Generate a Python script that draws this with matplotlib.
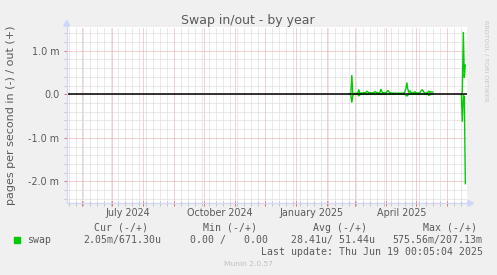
import numpy as np
import pandas as pd
import matplotlib
matplotlib.use("Agg")
import matplotlib.pyplot as plt
import matplotlib.dates as mdates
from matplotlib.ticker import MultipleLocator, FixedLocator, NullFormatter
from matplotlib.patches import Polygon, Rectangle
from matplotlib.lines import Line2D
from matplotlib.transforms import blended_transform_factory

# ---------------- data ----------------
title = "Swap in/out - by year"
ylabel = "pages per second in (-) / out (+)"
x_start = "2024-05-16 09:00"
x_end = "2025-06-20 09:00"
y_limits = (-2.5, 1.55)              # milli-pages per second
ytick_values = [-2.0, -1.0, 0.0, 1.0]
ytick_labels = ["-2.0 m", "-1.0 m", "0.0", "1.0 m"]
month_labels = ["July 2024", "October 2024", "January 2025", "April 2025"]
month_label_dates = ["2024-07-16", "2024-10-16", "2025-01-16", "2025-04-16"]

# daily values (milli-pages/s), first segment
seg1_start = "2025-02-22 12:00"
swap_out_seg1 = [
    0.00, 0.00, 0.02, 0.44, 0.00, 0.01, 0.02, 0.02, 0.02, 0.03,
    0.11, 0.02, 0.03, 0.03, 0.03, 0.04, 0.03, 0.04, 0.075, 0.05,
    0.04, 0.035, 0.035, 0.03, 0.035, 0.04, 0.06, 0.05, 0.04, 0.03,
    0.03, 0.04, 0.12, 0.06, 0.03, 0.035, 0.03, 0.04, 0.05, 0.09,
    0.06, 0.04, 0.03, 0.03, 0.025, 0.025, 0.025, 0.025, 0.025, 0.025,
    0.025, 0.025, 0.025, 0.025, 0.025, 0.03, 0.05, 0.12, 0.27, 0.12,
    0.04, 0.08, 0.04, 0.03, 0.03, 0.04, 0.06, 0.04, 0.03, 0.03,
    0.03, 0.04, 0.07, 0.10, 0.09, 0.05, 0.03, 0.03, 0.03, 0.05,
    0.075, 0.04, 0.06, 0.05, 0.05,
]
swap_in_seg1 = [
    0.00, 0.00, 0.02, 0.19, 0.02, 0.00, 0.00, 0.00, 0.00, 0.00,
    0.04, 0.01, 0.00, 0.00, 0.00, 0.00, 0.00, 0.00, 0.00, 0.00,
    0.00, 0.00, 0.00, 0.00, 0.00, 0.00, 0.00, 0.00, 0.00, 0.00,
    0.00, 0.00, 0.00, 0.00, 0.00, 0.00, 0.00, 0.00, 0.00, 0.00,
    0.00, 0.00, 0.00, 0.00, 0.00, 0.00, 0.00, 0.00, 0.00, 0.00,
    0.00, 0.00, 0.00, 0.00, 0.00, 0.00, 0.00, 0.02, 0.04, 0.02,
    0.00, 0.00, 0.00, 0.00, 0.00, 0.00, 0.00, 0.00, 0.00, 0.00,
    0.00, 0.00, 0.00, 0.00, 0.00, 0.00, 0.00, 0.00, 0.00, 0.00,
    0.03, 0.01, 0.00, 0.00, 0.00,
]
# second segment (last days)
seg2_start = "2025-06-15 00:00"
swap_out_seg2 = [0.00, 0.05, 1.43, 0.38, 0.67]
swap_in_seg2 = [0.00, 0.63, 0.02, 0.05, 2.05]

legend_headers = ["Cur (-/+)", "Min (-/+)", "Avg (-/+)", "Max (-/+)"]
legend_name = "swap"
legend_values = ["2.05m/671.30u", "0.00 /   0.00", "28.41u/ 51.44u", "575.56m/207.13m"]
last_update = "Last update: Thu Jun 19 00:05:04 2025"
footer = "Munin 2.0.57"
watermark = "RRDTOOL / TOBI OETIKER"

# ---------------- style ----------------
W, H = 497, 275
BG = "#f0f0f0"
FONT_C = "#5a5a5a"
AXIS_C = "#cfd6f8"
GREEN = "#00cc00"
MINOR_C = "#d4d4d4"
MAJOR_C = "#eba4a4"

def fx(px):
    return px / W

def fy(py):
    return 1 - py / H

fig = plt.figure(figsize=(W / 100, H / 100), dpi=100, facecolor=BG)
L, R, T, B = 66.7, 466.7, 26.7, 203.3
ax = fig.add_axes([fx(L), fy(B), (R - L) / W, (B - T) / H])
ax.set_facecolor("white")

# data
t1 = pd.date_range(seg1_start, periods=len(swap_out_seg1), freq="D")
t2 = pd.date_range(seg2_start, periods=len(swap_out_seg2), freq="D")
for t, out_v, in_v in [(t1, swap_out_seg1, swap_in_seg1), (t2, swap_out_seg2, swap_in_seg2)]:
    ax.plot(t, np.array(out_v), color=GREEN, lw=1.0, zorder=3, solid_joinstyle="miter")
    ax.plot(t, -np.array(in_v), color=GREEN, lw=1.0, zorder=3, solid_joinstyle="miter")

ax.axhline(0, color="black", lw=1.1, zorder=4)

ax.set_xlim(pd.Timestamp(x_start), pd.Timestamp(x_end))
ax.set_ylim(*y_limits)

# grid / ticks
ax.xaxis.set_major_locator(mdates.MonthLocator())
ax.xaxis.set_minor_locator(mdates.WeekdayLocator(byweekday=mdates.SU))
ax.xaxis.set_major_formatter(NullFormatter())
ax.xaxis.set_minor_formatter(NullFormatter())
ax.yaxis.set_major_locator(FixedLocator(ytick_values))
ax.set_yticklabels(ytick_labels)
ax.yaxis.set_minor_locator(MultipleLocator(0.2))
ax.set_axisbelow(True)
ax.grid(which="minor", color=MINOR_C, linestyle=(0, (1, 1)), lw=0.72)
ax.grid(which="major", color=MAJOR_C, linestyle=(0, (1, 1)), lw=0.72)

ax.tick_params(axis="y", which="both", direction="out", length=2.2, width=0.72,
               labelsize=6.9, labelcolor=FONT_C, pad=3.0)
ax.tick_params(axis="x", which="both", direction="inout", length=3.6, width=0.72)
ax.tick_params(which="major", color="#e07070")
ax.tick_params(which="minor", color="#c4c4c4")

for s in ["top", "right"]:
    ax.spines[s].set_visible(False)
for s in ["left", "bottom"]:
    ax.spines[s].set_color(AXIS_C)
    ax.spines[s].set_linewidth(0.9)
    ax.spines[s].set_zorder(5)

# axis arrows
fig.add_artist(Line2D([fx(L), fx(L)], [fy(T), fy(23)], color=AXIS_C, lw=0.9))
fig.add_artist(Polygon([[fx(L - 3), fy(26)], [fx(L + 3), fy(26)], [fx(L), fy(20.5)]],
                       closed=True, color=AXIS_C, transform=fig.transFigure))
fig.add_artist(Line2D([fx(R), fx(469)], [fy(B), fy(B)], color=AXIS_C, lw=0.9))
fig.add_artist(Polygon([[fx(468), fy(B - 3)], [fx(468), fy(B + 3)], [fx(473.5), fy(B)]],
                       closed=True, color=AXIS_C, transform=fig.transFigure))

# month labels (mid-month)
tr = blended_transform_factory(ax.transData, fig.transFigure)
for lab, d in zip(month_labels, month_label_dates):
    ax.text(mdates.date2num(pd.Timestamp(d)), fy(215.5), lab, transform=tr,
            ha="center", va="baseline", fontsize=6.9, color=FONT_C)

# title / labels
fig.text(fx(248), fy(24), title, ha="center", va="baseline", fontsize=9.0, color=FONT_C)
fig.text(fx(11.5), fy(115), ylabel, rotation=90, ha="center", va="center",
         fontsize=8.0, color=FONT_C)
fig.text(fx(486), fy(61), watermark, rotation=270, ha="center", va="center",
         fontsize=4.6, color="#c4c4c4")

# legend
mono = dict(family="DejaVu Sans Mono", fontsize=7.15, color=FONT_C, va="baseline")
for txt, x in zip(legend_headers, [94, 203, 313, 423]):
    fig.text(fx(x), fy(230.7), txt, ha="left", **mono)
fig.add_artist(Rectangle((fx(14), fy(243)), 6 / W, 6 / H, color=GREEN,
                         transform=fig.transFigure))
fig.text(fx(27), fy(242.7), legend_name, ha="left", **mono)
for txt, x in zip(legend_values, [83, 190, 291, 392]):
    fig.text(fx(x), fy(242.7), txt, ha="left", **mono)
fig.text(fx(483), fy(255), last_update, ha="right", **mono)
fig.text(fx(248), fy(266), footer, ha="center", va="baseline", fontsize=5.4, color="#c0c0c0")

fig.savefig("out.png", dpi=100, facecolor=BG)
